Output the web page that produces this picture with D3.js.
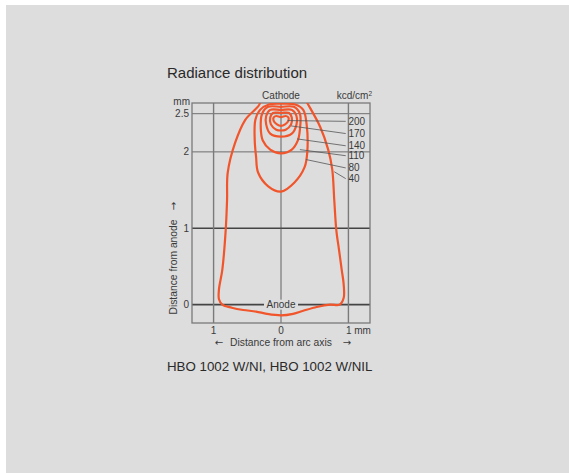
<!DOCTYPE html>
<html lang="en">
<head>
<meta charset="UTF-8">
<title>Radiance distribution</title>
<script src="https://d3js.org/d3.v7.min.js"></script>
<style>
    body { margin: 0; padding: 0; background: #fff; }
    svg text { font-family: "Liberation Sans", Arial, sans-serif; fill: #3a3a3a; }
    .contour { fill: none; stroke: #f1552b; stroke-width: 2.2; stroke-linejoin: round; }
    .leader { stroke: #555; stroke-width: 0.8; }
</style>
</head>
<body>
<svg width="569" height="473"></svg>
<script>
// radiance levels (kcd/cm²), innermost first
const levels = [200, 170, 140, 110, 80, 40];

// contour outlines in mm: [distance from arc axis, distance from anode]
const c200 = [[0,2.455],[0.07,2.47],[0.11,2.45],[0.11,2.41],[0.06,2.36],[0,2.34],[-0.06,2.36],[-0.11,2.41],[-0.11,2.45],[-0.07,2.47]];
const c170 = [[0,2.51],[0.12,2.51],[0.16,2.45],[0.15,2.36],[0.07,2.29],[0,2.28],[-0.07,2.29],[-0.15,2.36],[-0.16,2.45],[-0.12,2.51]];
const c140 = [[0,2.55],[0.16,2.55],[0.23,2.47],[0.23,2.36],[0.16,2.24],[0,2.20],[-0.16,2.24],[-0.22,2.36],[-0.22,2.47],[-0.16,2.55]];
const c110 = [[0,2.59],[0.19,2.59],[0.28,2.50],[0.28,2.29],[0.25,2.15],[0.16,2.03],[0,1.98],[-0.16,2.03],[-0.27,2.15],[-0.30,2.31],[-0.28,2.50],[-0.19,2.59]];
const c80 = [[0,2.63],[0.21,2.62],[0.33,2.55],[0.38,2.36],[0.39,2.0],[0.35,1.80],[0.2,1.60],[0,1.48],[-0.19,1.55],[-0.34,1.73],[-0.37,1.94],[-0.39,2.16],[-0.38,2.42],[-0.31,2.55],[-0.18,2.62]];
// outer contour runs out through the cathode end (open at top)
const c40 = [[-0.36,2.72],[-0.31,2.64],[-0.53,2.42],[-0.68,2.12],[-0.79,1.73],[-0.80,1.37],[-0.82,0.98],[-0.87,0.46],[-0.92,0.20],[-0.92,0.07],[-0.87,0],[-0.73,-0.04],[-0.56,-0.07],[-0.37,-0.09],[-0.21,-0.12],[0,-0.14],[0.18,-0.12],[0.33,-0.08],[0.53,-0.03],[0.73,0],[0.87,0],[0.93,0.09],[0.93,0.26],[0.90,0.46],[0.86,0.72],[0.82,0.98],[0.79,1.37],[0.76,1.77],[0.70,2.03],[0.58,2.33],[0.39,2.64],[0.34,2.72]];

// leader lines: point on contour -> label (mm)
const leaderFrom = [[0.10,2.41],[0.15,2.34],[0.24,2.17],[0.28,2.03],[0.37,1.90],[0.79,1.74]];
const leaderTo   = [[0.96,2.40],[0.96,2.24],[0.96,2.08],[0.96,1.95],[0.96,1.79],[0.96,1.65]];

const xTicks = [-1, 0, 1];
const xTickLabels = ["1", "0", "1 mm"];
const yTicks = [0, 1, 2, 2.5];
const yTickLabels = ["0", "1", "2", "2.5"];

const svg = d3.select("svg");

// page panel
svg.append("rect").attr("x", 6).attr("y", 5).attr("width", 563).attr("height", 468).attr("fill", "#dddddd");

const x = d3.scaleLinear().domain([-1.32, 1.32]).range([192, 370]);
const y = d3.scaleLinear().domain([-0.24, 2.64]).range([323, 103]);

svg.append("text").attr("x", 167).attr("y", 78)
    .style("font-size", "15px").style("fill", "#2a2a2a")
    .text("Radiance distribution");

svg.append("defs").append("clipPath").attr("id", "plot")
    .append("rect").attr("x", x(-1.32)).attr("y", y(2.64))
    .attr("width", x(1.32) - x(-1.32)).attr("height", y(-0.24) - y(2.64));

const grid = svg.append("g");

// horizontal grid lines
grid.selectAll("line.h").data(yTicks).enter().append("line")
    .attr("x1", x(-1.32)).attr("x2", x(1.32))
    .attr("y1", d => y(d)).attr("y2", d => y(d))
    .attr("stroke", d => d < 2 ? "#444" : "#6e6e6e")
    .attr("stroke-width", d => d < 2 ? 1.6 : 1);

// vertical grid lines
grid.selectAll("line.v").data(xTicks).enter().append("line")
    .attr("x1", d => x(d)).attr("x2", d => x(d))
    .attr("y1", y(2.64)).attr("y2", y(-0.24))
    .attr("stroke", d => d === 0 ? "#555" : "#7a7a7a")
    .attr("stroke-width", d => d === 0 ? 0.9 : 1.4);

// frame
grid.append("rect")
    .attr("x", x(-1.32)).attr("y", y(2.64))
    .attr("width", x(1.32) - x(-1.32)).attr("height", y(-0.24) - y(2.64))
    .attr("fill", "none").attr("stroke", "#7a7a7a").attr("stroke-width", 1.3);

// y tick labels
svg.append("g").selectAll("text").data(yTicks).enter().append("text")
    .attr("x", 189).attr("y", d => y(d)).attr("dy", "0.35em")
    .attr("text-anchor", "end").style("font-size", "10px")
    .text((d, i) => yTickLabels[i]);
svg.append("text").attr("x", 190).attr("y", 105)
    .attr("text-anchor", "end").style("font-size", "10px").text("mm");

// x tick labels
svg.append("g").selectAll("text").data(xTicks).enter().append("text")
    .attr("x", (d, i) => i === 2 ? x(d) - 2.5 : x(d)).attr("y", 334)
    .attr("text-anchor", (d, i) => i === 2 ? "start" : "middle")
    .style("font-size", "10px")
    .text((d, i) => xTickLabels[i]);

// axis titles
svg.append("text").attr("x", x(0)).attr("y", 346).attr("text-anchor", "middle")
    .style("font-size", "10.3px").text("Distance from arc axis");
svg.append("text").attr("x", 219).attr("y", 346).attr("text-anchor", "middle")
    .style("font-size", "10px").style("font-family", "DejaVu Sans").text("←");
svg.append("text").attr("x", 347).attr("y", 346).attr("text-anchor", "middle")
    .style("font-size", "10px").style("font-family", "DejaVu Sans").text("→");
svg.append("text").attr("transform", "translate(177,267) rotate(-90)")
    .attr("text-anchor", "middle").style("font-size", "10.3px").text("Distance from anode");
svg.append("text").attr("transform", "translate(177,206) rotate(-90)")
    .attr("text-anchor", "middle").style("font-size", "10px").style("font-family", "DejaVu Sans").text("→");

// Cathode / unit labels
svg.append("text").attr("x", x(0)).attr("y", 99).attr("text-anchor", "middle")
    .style("font-size", "10px").text("Cathode");
svg.append("text").attr("x", 372).attr("y", 99).attr("text-anchor", "end")
    .style("font-size", "10px").html("kcd/cm<tspan dy='-3' style='font-size:6.5px'>2</tspan>");

// Anode label masking the 0 line
svg.append("rect").attr("x", x(0) - 17).attr("y", y(0) - 5).attr("width", 34).attr("height", 10).attr("fill", "#dddddd");
svg.append("text").attr("x", x(0)).attr("y", y(0)).attr("dy", "0.35em").attr("text-anchor", "middle")
    .style("font-size", "10px").text("Anode");

// contours
const closed = d3.line().x(d => x(d[0])).y(d => y(d[1])).curve(d3.curveCatmullRomClosed.alpha(0.5));
const open = d3.line().x(d => x(d[0])).y(d => y(d[1])).curve(d3.curveCatmullRom.alpha(0.5));

const cg = svg.append("g").attr("clip-path", "url(#plot)");
[c200, c170, c140, c110, c80].forEach(c => {
    cg.append("path").attr("class", "contour").attr("d", closed(c));
});
cg.append("path").attr("class", "contour").attr("d", open(c40));

// leader lines and level labels
svg.append("g").selectAll("line").data(levels).enter().append("line")
    .attr("class", "leader")
    .attr("x1", (d, i) => x(leaderFrom[i][0])).attr("y1", (d, i) => y(leaderFrom[i][1]))
    .attr("x2", (d, i) => x(leaderTo[i][0])).attr("y2", (d, i) => y(leaderTo[i][1]));
svg.append("g").selectAll("text").data(levels).enter().append("text")
    .attr("x", x(1.0)).attr("y", (d, i) => y(leaderTo[i][1])).attr("dy", "0.35em")
    .style("font-size", "10px")
    .text(d => d);

svg.append("text").attr("x", 167).attr("y", 371)
    .style("font-size", "13.3px").style("fill", "#2a2a2a")
    .text("HBO 1002 W/NI, HBO 1002 W/NIL");
</script>
</body>
</html>
